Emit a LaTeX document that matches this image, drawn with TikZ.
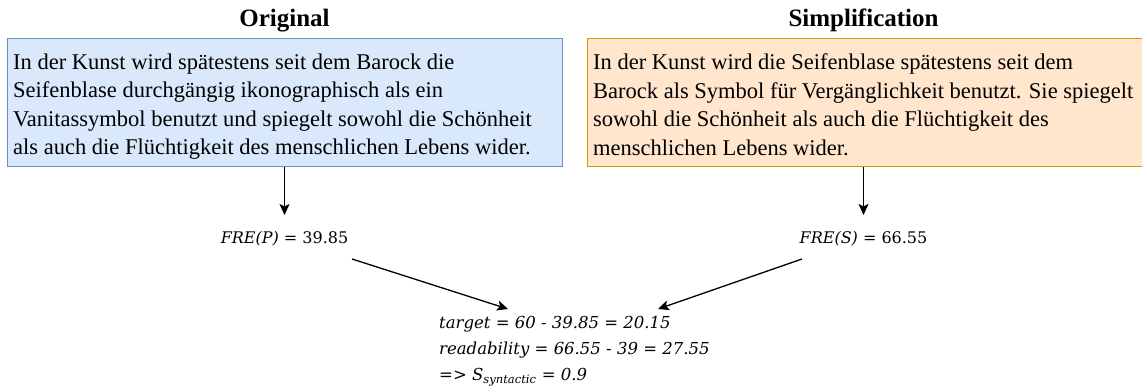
\documentclass[tikz,border=0pt]{standalone}
\usepackage{fontspec}
\setmainfont{Liberation Serif}
\newfontfamily\formfont{DejaVu Serif}
\usetikzlibrary{arrows.meta}

\definecolor{blueFill}{HTML}{DAE8FC}
\definecolor{blueLine}{HTML}{6C8EBF}
\definecolor{orangeFill}{HTML}{FFE6CC}
\definecolor{orangeLine}{HTML}{D79B00}

\tikzset{
  panel/.style={rectangle, anchor=north west, minimum width=555pt, minimum height=128pt,
    inner sep=0pt, line width=0.9pt},
  origbox/.style={panel, fill=blueFill, draw=blueLine},
  simpbox/.style={panel, fill=orangeFill, draw=orangeLine},
  bodytext/.style={anchor=north west, inner sep=0pt, align=left,
    font=\fontsize{22.5}{28.5}\selectfont},
  heading/.style={anchor=base, inner sep=0pt, font=\fontsize{25}{30}\selectfont\bfseries},
  score/.style={anchor=base, inner sep=0pt, font=\formfont\fontsize{16}{20}\selectfont},
  formula/.style={anchor=north west, inner sep=0pt, align=left,
    font=\formfont\itshape\fontsize{16.5}{26}\selectfont},
  arrow/.style={line width=1.3pt, -{Stealth[length=11pt, width=10pt, inset=2.5pt]}}
}

\begin{document}
\begin{tikzpicture}[x=1pt, y=-1pt]
  \useasboundingbox (0,0) rectangle (1142,390);

  % column headings
  \node[heading] (hOrig) at (284.5,27) {Original};
  \node[heading] (hSimp) at (863.5,27) {Simplification};

  % the two sentence panels
  \node[origbox] (orig) at (7,38) {};
  \node[simpbox] (simp) at (587,38) {};
  \node[bodytext] (origText) at (13,53.6) {In der Kunst wird spätestens seit dem Barock die\\
    Seifenblase durchgängig ikonographisch als ein\\
    Vanitassymbol benutzt und spiegelt sowohl die Schönheit\\
    als auch die Flüchtigkeit des menschlichen Lebens wider.};
  \node[bodytext] (simpText) at (593,53.6) {In der Kunst wird die Seifenblase spätestens seit dem\\
    Barock als Symbol für Vergänglichkeit benutzt. Sie spiegelt\\
    sowohl die Schönheit als auch die Flüchtigkeit des\\
    menschlichen Lebens wider.};

  % readability scores
  \node[score] (freP) at (284.5,243.5) {\textit{FRE(P)} = 39.85};
  \node[score] (freS) at (863.5,243.5) {\textit{FRE(S)} = 66.55};

  % resulting computation
  \node[formula] (calc) at (439,316) {target = 60 - 39.85 = 20.15\\
    readability = 66.55 - 39 = 27.55\\
    => S\textsubscript{syntactic} = 0.9};

  % connector end points
  \coordinate (frePTop) at (284.5,215);
  \coordinate (freSTop) at (863.5,215);
  \coordinate (frePOut) at (352,259);
  \coordinate (freSOut) at (802,259);
  \coordinate (calcInL) at (508,309);
  \coordinate (calcInR) at (658,309);

  \draw[arrow] (frePTop |- orig.south) -- (frePTop);
  \draw[arrow] (freSTop |- simp.south) -- (freSTop);
  \draw[arrow] (frePOut) -- (calcInL);
  \draw[arrow] (freSOut) -- (calcInR);
\end{tikzpicture}
\end{document}
